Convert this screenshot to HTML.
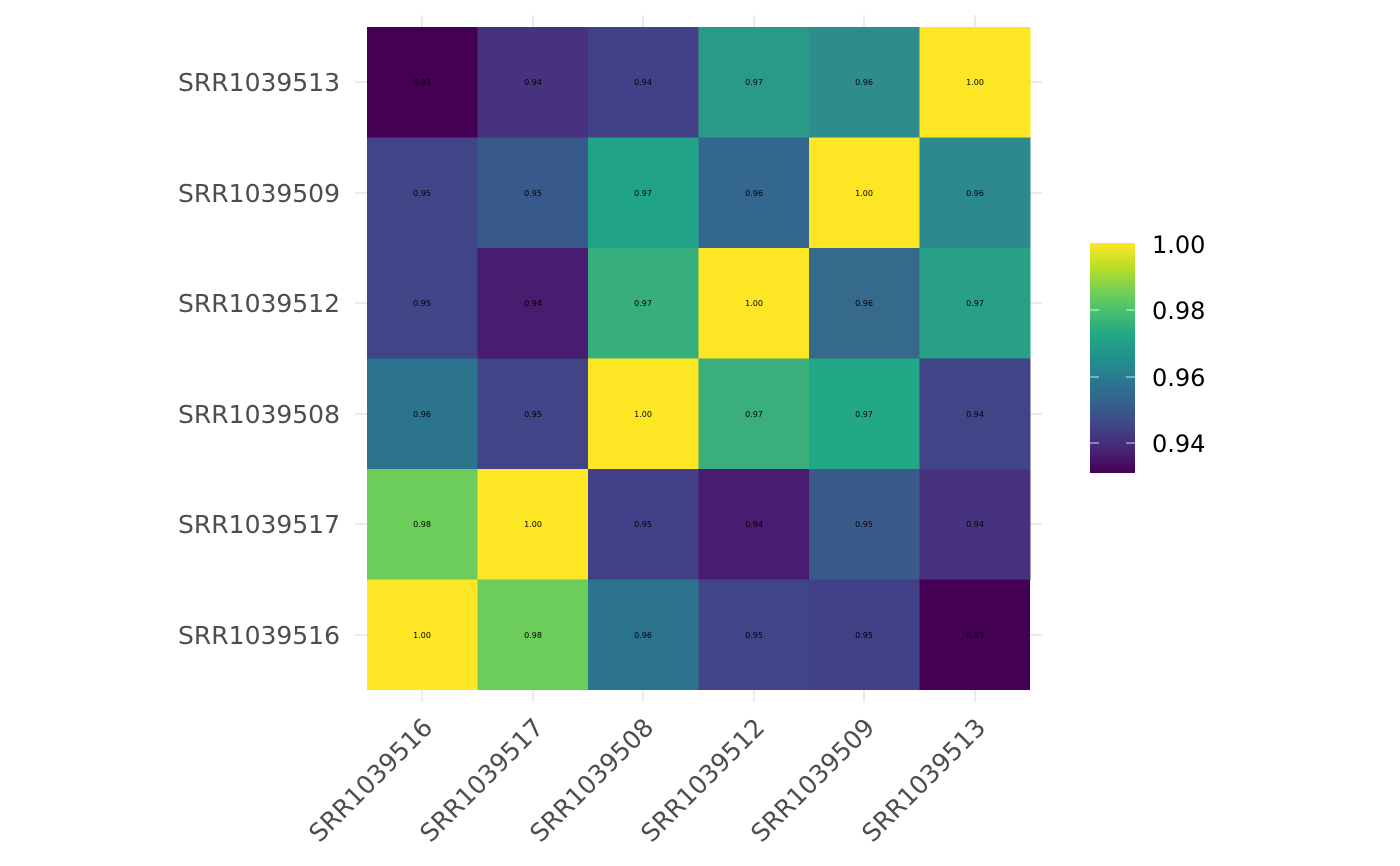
<!DOCTYPE html>
<html><head><style>body{margin:0;background:#fff}svg{display:block}</style></head><body>
<svg width="1400" height="866" xmlns="http://www.w3.org/2000/svg" font-family="DejaVu Sans, Liberation Sans, sans-serif">
<defs>
<linearGradient id="vg" x1="0" y1="1" x2="0" y2="0">
<stop offset="0" stop-color="#440154"/><stop offset="0.1" stop-color="#482475"/><stop offset="0.2" stop-color="#414487"/><stop offset="0.3" stop-color="#355f8d"/><stop offset="0.4" stop-color="#2a788e"/><stop offset="0.5" stop-color="#21918c"/><stop offset="0.6" stop-color="#22a884"/><stop offset="0.7" stop-color="#44bf70"/><stop offset="0.8" stop-color="#7ad151"/><stop offset="0.9" stop-color="#bddf26"/><stop offset="1" stop-color="#fde725"/>
</linearGradient>
</defs>
<g stroke="#ebebeb" stroke-width="2">
<line x1="422" y1="15" x2="422" y2="702"/><line x1="533" y1="15" x2="533" y2="702"/><line x1="643" y1="15" x2="643" y2="702"/><line x1="754" y1="15" x2="754" y2="702"/><line x1="864" y1="15" x2="864" y2="702"/><line x1="975" y1="15" x2="975" y2="702"/>
<line x1="355" y1="82" x2="1042" y2="82"/><line x1="355" y1="193" x2="1042" y2="193"/><line x1="355" y1="303" x2="1042" y2="303"/><line x1="355" y1="414" x2="1042" y2="414"/><line x1="355" y1="524" x2="1042" y2="524"/><line x1="355" y1="635" x2="1042" y2="635"/>
</g>
<g>
<rect x="367" y="27" width="111" height="111" fill="#440154"/><rect x="477.5" y="27" width="111" height="111" fill="#46327e"/><rect x="588" y="27" width="111" height="111" fill="#424086"/><rect x="698.5" y="27" width="111" height="111" fill="#2a9a88"/><rect x="809" y="27" width="111" height="111" fill="#2e8c8b"/><rect x="919.5" y="27" width="111" height="111" fill="#fde725"/>
<rect x="367" y="137.5" width="111" height="111" fill="#414487"/><rect x="477.5" y="137.5" width="111" height="111" fill="#38598c"/><rect x="588" y="137.5" width="111" height="111" fill="#20a386"/><rect x="698.5" y="137.5" width="111" height="111" fill="#33678d"/><rect x="809" y="137.5" width="111" height="111" fill="#fde725"/><rect x="919.5" y="137.5" width="111" height="111" fill="#2c898e"/>
<rect x="367" y="248" width="111" height="111" fill="#414487"/><rect x="477.5" y="248" width="111" height="111" fill="#481c6e"/><rect x="588" y="248" width="111" height="111" fill="#38ae7c"/><rect x="698.5" y="248" width="111" height="111" fill="#fde725"/><rect x="809" y="248" width="111" height="111" fill="#366a8c"/><rect x="919.5" y="248" width="111" height="111" fill="#28a086"/>
<rect x="367" y="358.5" width="111" height="111" fill="#2c738e"/><rect x="477.5" y="358.5" width="111" height="111" fill="#414487"/><rect x="588" y="358.5" width="111" height="111" fill="#fde725"/><rect x="698.5" y="358.5" width="111" height="111" fill="#3aae7b"/><rect x="809" y="358.5" width="111" height="111" fill="#22a884"/><rect x="919.5" y="358.5" width="111" height="111" fill="#414487"/>
<rect x="367" y="469" width="111" height="111" fill="#6ccd5a"/><rect x="477.5" y="469" width="111" height="111" fill="#fde725"/><rect x="588" y="469" width="111" height="111" fill="#424086"/><rect x="698.5" y="469" width="111" height="111" fill="#481c6e"/><rect x="809" y="469" width="111" height="111" fill="#3b5a8c"/><rect x="919.5" y="469" width="111" height="111" fill="#46327e"/>
<rect x="367" y="579.5" width="111" height="110.5" fill="#fde725"/><rect x="477.5" y="579.5" width="111" height="110.5" fill="#6ccd5a"/><rect x="588" y="579.5" width="111" height="110.5" fill="#2c738e"/><rect x="698.5" y="579.5" width="111" height="110.5" fill="#414487"/><rect x="809" y="579.5" width="111" height="110.5" fill="#424086"/><rect x="919.5" y="579.5" width="110.5" height="110.5" fill="#440154"/>
</g>
<g font-size="8" fill="#000" text-anchor="middle">
<text x="422" y="85">0.93</text><text x="533" y="85">0.94</text><text x="643" y="85">0.94</text><text x="754" y="85">0.97</text><text x="864" y="85">0.96</text><text x="975" y="85">1.00</text>
<text x="422" y="196">0.95</text><text x="533" y="196">0.95</text><text x="643" y="196">0.97</text><text x="754" y="196">0.96</text><text x="864" y="196">1.00</text><text x="975" y="196">0.96</text>
<text x="422" y="306">0.95</text><text x="533" y="306">0.94</text><text x="643" y="306">0.97</text><text x="754" y="306">1.00</text><text x="864" y="306">0.96</text><text x="975" y="306">0.97</text>
<text x="422" y="417">0.96</text><text x="533" y="417">0.95</text><text x="643" y="417">1.00</text><text x="754" y="417">0.97</text><text x="864" y="417">0.97</text><text x="975" y="417">0.94</text>
<text x="422" y="527">0.98</text><text x="533" y="527">1.00</text><text x="643" y="527">0.95</text><text x="754" y="527">0.94</text><text x="864" y="527">0.95</text><text x="975" y="527">0.94</text>
<text x="422" y="638">1.00</text><text x="533" y="638">0.98</text><text x="643" y="638">0.96</text><text x="754" y="638">0.95</text><text x="864" y="638">0.95</text><text x="975" y="638">0.93</text>
</g>
<g font-size="25" fill="#4d4d4d" text-anchor="end">
<text x="340" y="91">SRR1039513</text><text x="340" y="202">SRR1039509</text><text x="340" y="312">SRR1039512</text><text x="340" y="423">SRR1039508</text><text x="340" y="533">SRR1039517</text><text x="340" y="644">SRR1039516</text>
</g>
<g font-size="25" fill="#4d4d4d" text-anchor="end">
<text transform="translate(434,729) rotate(-45)">SRR1039516</text>
<text transform="translate(545,729) rotate(-45)">SRR1039517</text>
<text transform="translate(655,729) rotate(-45)">SRR1039508</text>
<text transform="translate(766,729) rotate(-45)">SRR1039512</text>
<text transform="translate(876,729) rotate(-45)">SRR1039509</text>
<text transform="translate(987,729) rotate(-45)">SRR1039513</text>
</g>
<rect x="1090" y="243" width="45" height="230" fill="url(#vg)"/>
<g stroke="#fff" stroke-width="1" opacity="0.8">
<line x1="1090" y1="310" x2="1099" y2="310"/><line x1="1126" y1="310" x2="1135" y2="310"/>
<line x1="1090" y1="377" x2="1099" y2="377"/><line x1="1126" y1="377" x2="1135" y2="377"/>
<line x1="1090" y1="443" x2="1099" y2="443"/><line x1="1126" y1="443" x2="1135" y2="443"/>
</g>
<g font-size="24" fill="#000">
<text x="1152" y="253">1.00</text><text x="1152" y="319">0.98</text><text x="1152" y="386">0.96</text><text x="1152" y="452">0.94</text>
</g>
</svg>
</body></html>
